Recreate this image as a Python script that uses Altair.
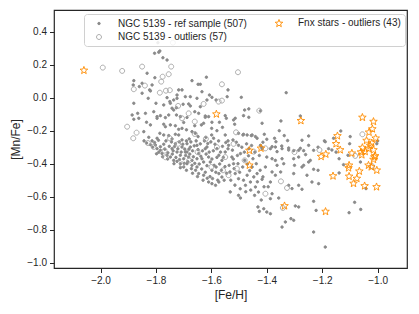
import altair as alt
import pandas as pd

REF = "NGC 5139 - ref sample (507)"
OUT = "NGC 5139 - outliers (57)"
FNX = "Fnx stars - outliers (43)"

x_ticks = [-2.0, -1.8, -1.6, -1.4, -1.2, -1.0]
y_ticks = [-1.0, -0.8, -0.6, -0.4, -0.2, 0.0, 0.2, 0.4]

ref_upper = [
    (-1.793, 0.333), (-1.805, 0.269), (-1.790, 0.275), (-1.786, 0.283), (-1.775, 0.242),
    (-1.760, 0.228), (-1.832, 0.148), (-1.880, 0.103), (-1.882, 0.077), (-1.814, 0.077),
    (-1.823, 0.047), (-1.850, 0.087), (-1.860, 0.067), (-1.804, 0.121), (-1.820, 0.041),
    (-1.850, 0.027), (-1.718, 0.047), (-1.760, 0.000), (-1.724, -0.004), (-1.736, -0.014),
    (-1.750, -0.024), (-1.828, -0.004), (-1.800, -0.034), (-1.772, -0.044), (-1.880, -0.034),
    (-1.702, -0.040), (-1.726, -0.061), (-1.742, -0.064), (-1.648, 0.081), (-1.640, 0.081),
    (-1.670, 0.103), (-1.618, 0.124), (-1.676, 0.006), (-1.652, -0.004), (-1.607, 0.016),
    (-1.634, 0.036), (-1.706, 0.047), (-1.724, 0.016), (-1.694, 0.006), (-1.748, -0.034),
    (-1.676, -0.050), (-1.640, -0.055), (-1.682, -0.038), (-1.616, -0.014),
]

ref_mid_upper = [
    (-1.736, -0.075), (-1.660, -0.085), (-1.622, -0.111), (-1.796, -0.125), (-1.838, -0.095),
    (-1.880, -0.131), (-1.862, -0.125), (-1.844, -0.206), (-1.886, -0.105), (-1.866, -0.095),
    (-1.808, -0.085), (-1.796, -0.115), (-1.784, -0.109), (-1.766, -0.121), (-1.754, -0.105),
    (-1.726, -0.105), (-1.712, -0.115), (-1.834, -0.149), (-1.820, -0.165), (-1.772, -0.161),
    (-1.766, -0.176), (-1.748, -0.165), (-1.730, -0.170), (-1.718, -0.192), (-1.706, -0.186),
    (-1.786, -0.216), (-1.772, -0.226), (-1.754, -0.230), (-1.730, -0.222), (-1.718, -0.226),
    (-1.796, -0.246), (-1.742, -0.250), (-1.706, -0.256), (-1.814, -0.262), (-1.646, -0.095),
    (-1.622, -0.119), (-1.610, -0.115), (-1.628, -0.155), (-1.636, -0.165), (-1.598, -0.149),
    (-1.571, -0.149), (-1.599, -0.186), (-1.670, -0.206), (-1.658, -0.216), (-1.648, -0.236),
    (-1.599, -0.226), (-1.592, -0.246), (-1.550, -0.226), (-1.540, -0.262), (-1.550, -0.109),
    (-1.546, -0.125), (-1.520, -0.135), (-1.516, -0.161), (-1.583, -0.014), (-1.598, 0.002),
    (-1.543, 0.006), (-1.540, 0.047), (-1.492, 0.002), (-1.480, -0.075), (-1.465, -0.068),
    (-1.484, -0.109), (-1.465, -0.119), (-1.514, -0.125), (-1.502, -0.216), (-1.486, -0.226),
    (-1.471, -0.226), (-1.453, -0.226), (-1.435, -0.246), (-1.522, -0.256), (-1.484, -0.222),
    (-1.456, -0.230), (-1.441, -0.236), (-1.688, -0.120), (-1.700, -0.150), (-1.660, -0.170),
    (-1.690, -0.195), (-1.580, -0.200), (-1.560, -0.180), (-1.620, -0.240), (-1.680, -0.250),
]

ref_core = [
    (-1.834, -0.275), (-1.820, -0.285), (-1.796, -0.309), (-1.784, -0.319), (-1.778, -0.339),
    (-1.760, -0.349), (-1.748, -0.360), (-1.736, -0.380), (-1.724, -0.386), (-1.712, -0.400),
    (-1.700, -0.420), (-1.742, -0.309), (-1.724, -0.329), (-1.712, -0.349), (-1.700, -0.370),
    (-1.730, -0.279), (-1.706, -0.299), (-1.694, -0.329), (-1.802, -0.287), (-1.784, -0.297),
    (-1.688, -0.279), (-1.676, -0.299), (-1.688, -0.329), (-1.682, -0.360), (-1.670, -0.380),
    (-1.688, -0.400), (-1.670, -0.410), (-1.652, -0.420), (-1.646, -0.460), (-1.628, -0.470),
    (-1.652, -0.289), (-1.646, -0.339), (-1.634, -0.370), (-1.622, -0.309), (-1.616, -0.299),
    (-1.610, -0.360), (-1.604, -0.390), (-1.598, -0.440), (-1.610, -0.511), (-1.598, -0.521),
    (-1.585, -0.531), (-1.573, -0.511), (-1.580, -0.309), (-1.573, -0.349), (-1.562, -0.380),
    (-1.583, -0.420), (-1.573, -0.460), (-1.562, -0.481), (-1.550, -0.329), (-1.538, -0.289),
    (-1.526, -0.360), (-1.520, -0.400),
    (-1.843, -0.262), (-1.826, -0.240), (-1.812, -0.300), (-1.805, -0.272), (-1.791, -0.258),
    (-1.790, -0.331), (-1.772, -0.282), (-1.768, -0.312), (-1.764, -0.262), (-1.757, -0.334),
    (-1.752, -0.295), (-1.744, -0.268), (-1.741, -0.342), (-1.738, -0.322), (-1.733, -0.296),
    (-1.728, -0.362), (-1.721, -0.310), (-1.716, -0.268), (-1.715, -0.375), (-1.709, -0.330),
    (-1.703, -0.282), (-1.698, -0.398), (-1.696, -0.312), (-1.693, -0.350), (-1.690, -0.262),
    (-1.685, -0.388), (-1.681, -0.312), (-1.678, -0.342), (-1.674, -0.268), (-1.672, -0.430),
    (-1.668, -0.322), (-1.665, -0.358), (-1.662, -0.292), (-1.660, -0.398), (-1.657, -0.440),
    (-1.655, -0.262), (-1.652, -0.370), (-1.648, -0.315), (-1.644, -0.402), (-1.640, -0.280),
    (-1.638, -0.355), (-1.635, -0.432), (-1.632, -0.322), (-1.628, -0.390), (-1.625, -0.262),
    (-1.622, -0.452), (-1.619, -0.342), (-1.616, -0.412), (-1.613, -0.278), (-1.608, -0.330),
    (-1.605, -0.478), (-1.602, -0.268), (-1.598, -0.372), (-1.596, -0.490), (-1.593, -0.322),
    (-1.590, -0.410), (-1.587, -0.282), (-1.584, -0.452), (-1.580, -0.362), (-1.577, -0.500),
    (-1.574, -0.262), (-1.570, -0.402), (-1.567, -0.330), (-1.564, -0.440), (-1.560, -0.295),
    (-1.557, -0.362), (-1.554, -0.500), (-1.551, -0.418), (-1.548, -0.272), (-1.545, -0.458),
    (-1.758, -0.372), (-1.735, -0.400), (-1.712, -0.424), (-1.690, -0.440), (-1.668, -0.458),
    (-1.650, -0.478), (-1.630, -0.500), (-1.615, -0.488), (-1.776, -0.358), (-1.798, -0.340),
]

ref_mid = [
    (-1.532, -0.571), (-1.502, -0.592), (-1.495, -0.608), (-1.514, -0.460), (-1.502, -0.491),
    (-1.502, -0.289), (-1.495, -0.339), (-1.480, -0.380), (-1.471, -0.470), (-1.477, -0.531),
    (-1.459, -0.511), (-1.441, -0.541), (-1.453, -0.420), (-1.435, -0.460), (-1.432, -0.662),
    (-1.427, -0.689), (-1.444, -0.592), (-1.423, -0.289), (-1.465, -0.309),
    (-1.540, -0.310), (-1.536, -0.410), (-1.533, -0.450), (-1.530, -0.500), (-1.524, -0.318),
    (-1.521, -0.372), (-1.518, -0.430), (-1.515, -0.530), (-1.510, -0.270), (-1.506, -0.350),
    (-1.504, -0.400), (-1.498, -0.452), (-1.496, -0.552), (-1.490, -0.300), (-1.487, -0.420),
    (-1.484, -0.500), (-1.481, -0.330), (-1.476, -0.570), (-1.473, -0.280), (-1.470, -0.402),
    (-1.466, -0.352), (-1.462, -0.442), (-1.458, -0.560), (-1.455, -0.290), (-1.450, -0.370),
    (-1.447, -0.480), (-1.443, -0.330), (-1.438, -0.400), (-1.434, -0.510), (-1.430, -0.572),
    (-1.427, -0.350), (-1.424, -0.440), (-1.420, -0.620), (-1.418, -0.300), (-1.414, -0.480),
    (-1.410, -0.540),
]

ref_right = [
    (-1.330, 0.030), (-1.423, -0.080), (-1.417, -0.155), (-1.349, -0.141), (-1.279, -0.111),
    (-1.409, -0.222), (-1.400, -0.252), (-1.372, -0.246), (-1.367, -0.267), (-1.337, -0.230),
    (-1.249, -0.232), (-1.273, -0.258), (-1.192, -0.262), (-1.159, -0.246), (-1.414, -0.270),
    (-1.381, -0.297), (-1.346, -0.293), (-1.279, -0.307), (-1.267, -0.321), (-1.363, -0.327),
    (-1.321, -0.317), (-1.303, -0.321), (-1.189, -0.267), (-1.165, -0.317), (-1.099, -0.236),
    (-1.417, -0.309), (-1.387, -0.309), (-1.369, -0.299), (-1.345, -0.309), (-1.321, -0.305),
    (-1.285, -0.319), (-1.249, -0.289), (-1.231, -0.319), (-1.177, -0.309), (-1.400, -0.360),
    (-1.381, -0.370), (-1.369, -0.380), (-1.345, -0.370), (-1.339, -0.400), (-1.363, -0.410),
    (-1.405, -0.420), (-1.303, -0.370), (-1.285, -0.360), (-1.273, -0.420), (-1.267, -0.410),
    (-1.249, -0.390), (-1.243, -0.380), (-1.231, -0.434), (-1.381, -0.450), (-1.369, -0.470),
    (-1.303, -0.460), (-1.237, -0.511), (-1.213, -0.521), (-1.417, -0.495), (-1.387, -0.511),
    (-1.321, -0.531), (-1.309, -0.551), (-1.285, -0.531), (-1.273, -0.555), (-1.381, -0.582),
    (-1.387, -0.612), (-1.357, -0.608), (-1.411, -0.673), (-1.400, -0.693), (-1.387, -0.703),
    (-1.297, -0.656), (-1.285, -0.662), (-1.313, -0.733), (-1.303, -0.743), (-1.333, -0.753),
    (-1.345, -0.784), (-1.231, -0.628), (-1.222, -0.683), (-1.231, -0.814), (-1.189, -0.905),
    (-1.083, -0.634), (-1.103, -0.697), (-1.061, -0.677), (-1.139, -0.370), (-1.123, -0.406),
    (-1.139, -0.456), (-1.101, -0.279), (-1.107, -0.349), (-1.062, -0.390), (-1.042, -0.551),
    (-1.003, -0.279), (-1.133, -0.202), (-1.000, -0.262), (-1.355, -0.200), (-1.325, -0.260),
    (-1.395, -0.540), (-1.350, -0.450), (-1.260, -0.345), (-1.215, -0.300), (-1.300, -0.410),
    (-1.150, -0.330), (-1.215, -0.440), (-1.255, -0.470),
]

ngc_outliers = [
    (-1.992, 0.182), (-1.922, 0.162), (-1.850, 0.188), (-1.745, 0.188), (-1.776, 0.127),
    (-1.781, 0.097), (-1.840, 0.073), (-1.880, 0.051), (-1.764, 0.042), (-1.750, 0.045),
    (-1.904, -0.176), (-1.870, -0.212), (-1.882, -0.246), (-1.706, -0.125), (-1.682, -0.095),
    (-1.769, -0.321), (-1.766, -0.361), (-1.706, -0.404), (-1.739, 0.333), (-1.504, 0.154),
    (-1.562, 0.081), (-1.562, -0.018), (-1.574, -0.024), (-1.628, -0.038), (-1.427, -0.079),
    (-1.055, -0.222), (-1.210, -0.317), (-1.447, -0.327), (-1.405, -0.307), (-1.754, 0.142),
    (-1.786, 0.030), (-1.750, -0.246), (-1.660, -0.145), (-1.511, -0.210), (-1.558, -0.440),
    (-1.538, -0.470), (-1.508, -0.430), (-1.349, -0.507), (-1.327, -0.547), (-1.405, -0.582),
    (-1.342, -0.668), (-1.081, -0.353), (-1.020, -0.415), (-1.808, -0.299), (-1.829, -0.275),
    (-1.720, -0.280), (-1.650, -0.330), (-1.620, -0.250), (-1.680, -0.380), (-1.580, -0.300),
    (-1.550, -0.360), (-1.600, -0.420), (-1.480, -0.380), (-1.720, -0.050), (-1.660, -0.220),
    (-1.520, -0.280), (-1.300, -0.330),
]

fnx_outliers = [
    (-2.060, 0.165), (-1.582, -0.100), (-1.277, -0.140), (-1.463, -0.320), (-1.421, -0.307),
    (-1.463, -0.410), (-1.336, -0.656), (-1.188, -0.690), (-1.161, -0.475),
    (-1.055, -0.120), (-1.015, -0.145), (-1.019, -0.190), (-1.031, -0.210), (-1.007, -0.246),
    (-1.145, -0.232), (-1.150, -0.280), (-1.135, -0.317), (-1.093, -0.337), (-1.204, -0.357),
    (-1.187, -0.343), (-1.055, -0.303), (-1.027, -0.290), (-1.015, -0.317), (-1.045, -0.327),
    (-1.057, -0.347), (-1.009, -0.353), (-1.033, -0.309), (-1.021, -0.275), (-1.012, -0.360),
    (-1.015, -0.375), (-1.103, -0.410), (-1.105, -0.426), (-1.033, -0.410), (-1.023, -0.420),
    (-1.003, -0.440), (-1.066, -0.446), (-1.103, -0.477), (-1.075, -0.490), (-1.087, -0.520),
    (-1.047, -0.535), (-1.004, -0.541), (-1.060, -0.330), (-1.040, -0.260),
]

rows = []
for grp, pts in [(REF, ref_upper + ref_mid_upper + ref_core + ref_mid + ref_right),
                 (OUT, ngc_outliers), (FNX, fnx_outliers)]:
    for x, y in pts:
        rows.append({"feh": x, "mnfe": y, "grp": grp})
df = pd.DataFrame(rows)

order = [REF, OUT, FNX]
dot_path = "M-0.32,0A0.32,0.32 0 1,0 0.32,0A0.32,0.32 0 1,0 -0.32,0Z"
ring_path = "M-0.62,0A0.62,0.62 0 1,0 0.62,0A0.62,0.62 0 1,0 -0.62,0Z"
star_path = ("M0,-1L0.247,-0.34L0.951,-0.309L0.399,0.13L0.588,0.809L0,0.42"
             "L-0.588,0.809L-0.399,0.13L-0.951,-0.309L-0.247,-0.34Z")

legend = alt.Legend(
    title=None, orient="none", legendX=30, legendY=4, columns=2,
    columnPadding=21, rowPadding=3, padding=4, symbolOffset=6, labelOffset=14,
    symbolSize=64, symbolStrokeWidth=0.9, labelFont="Liberation Sans",
    labelFontSize=10, labelColor="#262626", labelLimit=300,
    strokeColor="#d0d0d0", cornerRadius=3, fillColor="rgba(255,255,255,0.85)",
)

minus = "replace(format(datum.value, '.1f'), '-', '\u2212')"

chart = alt.Chart(df).mark_point(filled=False, size=64, strokeWidth=0.9, opacity=1).encode(
    x=alt.X("feh:Q", title="[Fe/H]",
            scale=alt.Scale(domain=[-2.168, -0.894], nice=False, zero=False),
            axis=alt.Axis(values=x_ticks, labelExpr=minus)),
    y=alt.Y("mnfe:Q", title="[Mn/Fe]",
            scale=alt.Scale(domain=[-1.032, 0.531], nice=False, zero=False),
            axis=alt.Axis(values=y_ticks, labelExpr=minus)),
    shape=alt.Shape("grp:N", scale=alt.Scale(domain=order, range=[dot_path, ring_path, star_path]), legend=legend),
    stroke=alt.Stroke("grp:N", scale=alt.Scale(domain=order, range=["#8a8a8a", "#a3a3a3", "#ff8c00"]), legend=legend),
    fill=alt.Fill("grp:N", scale=alt.Scale(domain=order, range=["#8a8a8a", "transparent", "transparent"]), legend=legend),
).properties(
    width=353, height=258,
    autosize=alt.AutoSizeParams(type="none"),
    padding={"left": 46, "top": 2, "right": 4, "bottom": 40},
).configure_view(
    stroke="#262626", strokeWidth=1.2
).configure_axis(
    domain=False, grid=False, tickColor="#262626", tickSize=4.5, tickWidth=1,
    labelFont="Liberation Sans", labelFontSize=10, labelColor="#262626", labelPadding=3,
    titleFont="Liberation Sans", titleFontSize=12, titleFontWeight="normal", titleColor="#262626",
).configure_axisX(titlePadding=4).configure_axisY(titlePadding=4)

chart.save("out.html", embed_options={"renderer": "svg", "actions": False})
